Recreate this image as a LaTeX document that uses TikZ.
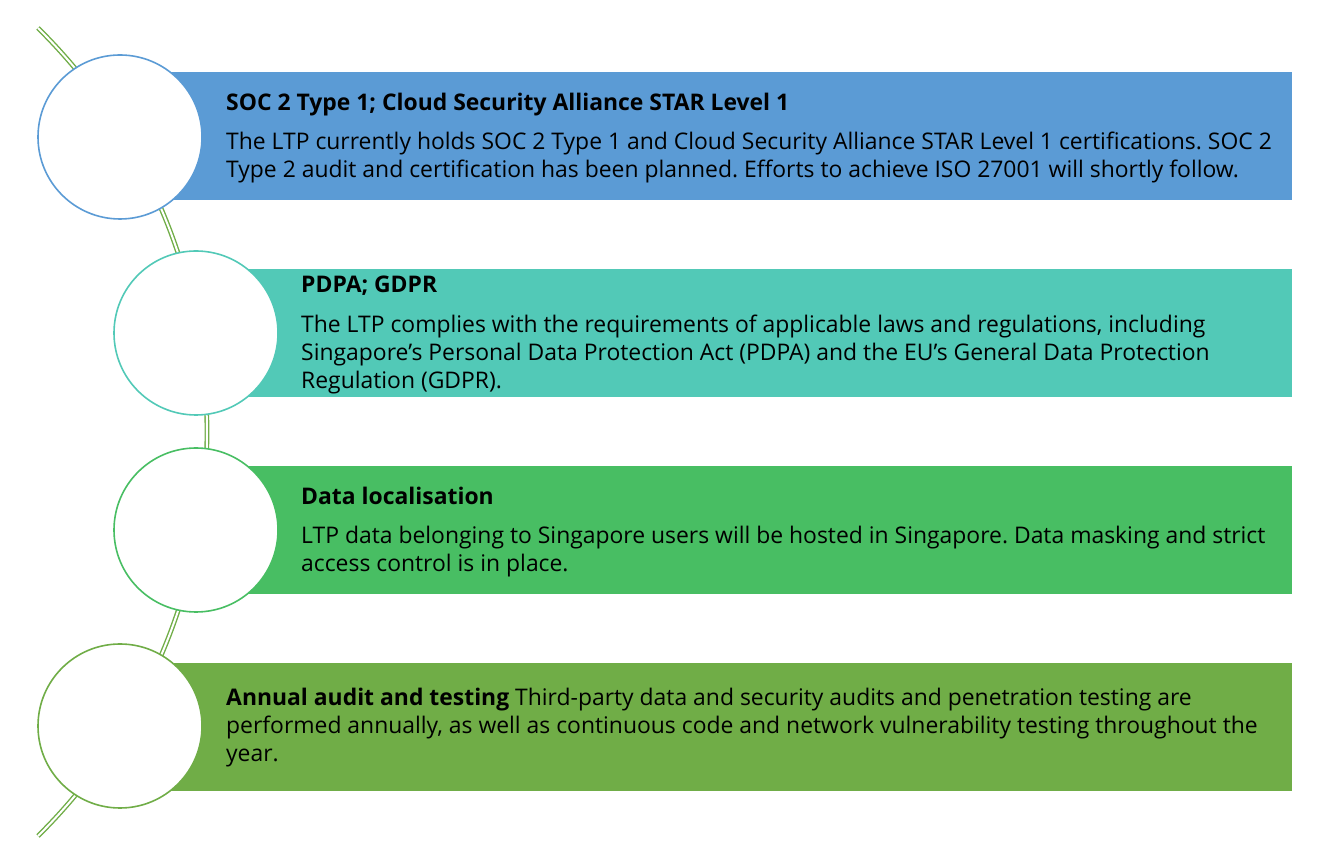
\documentclass[tikz,border=0pt]{standalone}
\usepackage{fontspec}
\setmainfont{Open Sans}
\frenchspacing
\definecolor{cBlue}{HTML}{5B9BD5}
\definecolor{cTeal}{HTML}{52C9B7}
\definecolor{cGreen}{HTML}{48BE63}
\definecolor{cLeaf}{HTML}{70AD47}
\tikzset{
  band/.style={fill=#1, draw=none},
  bubble/.style={circle, draw=#1, line width=1.6pt, fill=white, minimum size=164pt, inner sep=0pt},
  ln/.style={anchor=base west, inner sep=0pt, font=\fontsize{22.9}{27}\selectfont\frenchspacing},
  hd/.style={ln, font=\fontsize{22.9}{27}\selectfont\bfseries\frenchspacing},
  spine/.style={draw=cLeaf, line width=1.4pt, double=white, double distance=2pt}
}
\begin{document}
\begin{tikzpicture}[x=1pt,y=1pt]
\useasboundingbox (0,0) rectangle (1333,854);
% spine arc
\coordinate (O) at (-360.4,422);
\draw[spine] ([shift={(45.4:567.4)}]O) arc[start angle=45.4, end angle=-45.4, radius=567.4];
% bands
\fill[band=cBlue]  (120,654) rectangle (1292,782);
\fill[band=cTeal]  (196,457) rectangle (1292,585);
\fill[band=cGreen] (196,260) rectangle (1292,388);
\fill[band=cLeaf]  (120,63)  rectangle (1292,191);
% bubbles
\node[bubble=cBlue]  (c1) at (120,717) {};
\node[bubble=cTeal]  (c2) at (196,521) {};
\node[bubble=cGreen] (c3) at (196,324) {};
\node[bubble=cLeaf]  (c4) at (120,128) {};
% texts
\node[hd] (t1) at (226,743) {SOC 2 Type 1; Cloud Security Alliance STAR Level 1};
\node[ln] (t1a) at (226,704) {The LTP currently holds SOC 2 Type 1 and Cloud Security Alliance STAR Level 1 certifications. SOC 2};
\node[ln] (t1b) at (226,676.5) {Type 2 audit and certification has been planned. Efforts to achieve ISO 27001 will shortly follow.};
\node[hd] (t2) at (301,561) {PDPA; GDPR};
\node[ln] (t2a) at (301,521) {The LTP complies with the requirements of applicable laws and regulations, including};
\node[ln] (t2b) at (301,493) {Singapore’s Personal Data Protection Act (PDPA) and the EU’s General Data Protection};
\node[ln] (t2c) at (301,465) {Regulation (GDPR).};
\node[hd] (t3) at (301,349) {Data localisation};
\node[ln] (t3a) at (301,310) {LTP data belonging to Singapore users will be hosted in Singapore. Data masking and strict};
\node[ln] (t3b) at (301,282.5) {access control is in place.};
\node[ln] (t4a) at (226,148) {\textbf{Annual audit and testing} Third-party data and security audits and penetration testing are};
\node[ln] (t4b) at (226,120) {performed annually, as well as continuous code and network vulnerability testing throughout the};
\node[ln] (t4c) at (226,92) {year.};
\end{tikzpicture}
\end{document}
